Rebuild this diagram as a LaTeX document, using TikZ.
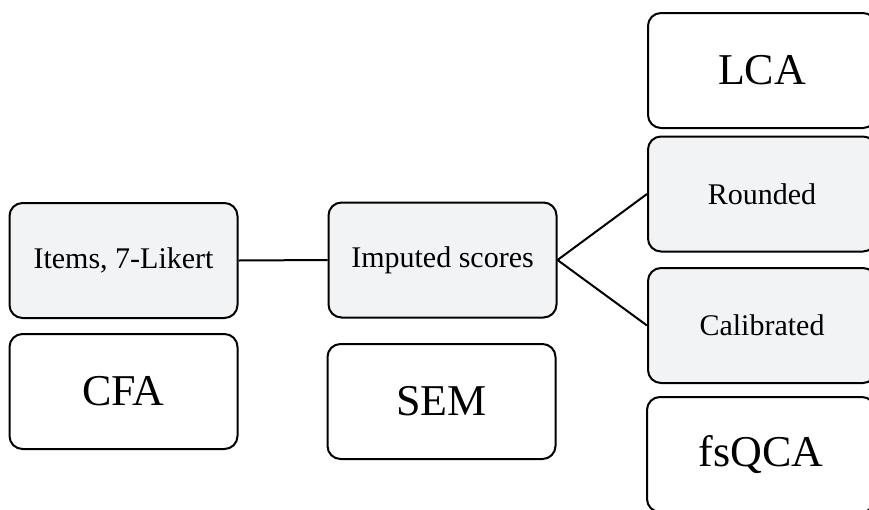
\documentclass[tikz,border=0pt]{standalone}
\usepackage{fontspec}
\setmainfont{Liberation Serif}
\begin{document}
\begin{tikzpicture}[x=1pt,y=-1pt,
  box/.style={draw=black, line width=2pt, rounded corners=13pt,
    minimum width=228pt, minimum height=115pt, inner sep=0pt, align=center},
  stage/.style={box, fill={rgb,255:red,242;green,243;blue,245},
    font=\fontsize{30}{36}\selectfont},
  method/.style={box, fill=white, font=\fontsize{44}{52}\selectfont},
  link/.style={draw=black, line width=2pt}]
  \useasboundingbox (0,0) rectangle (869,509);
  \clip (0,0) rectangle (869,509);

  % data stages
  \node[stage] (items) at (123.5,260.5) {Items, 7-Likert};
  \node[stage] (imputed) at (442.5,260) {Imputed scores};
  \node[stage] (rounded) at (762,194) {Rounded};
  \node[stage] (calibrated) at (762,325.5) {Calibrated};

  % analysis methods
  \node[method] (cfa) at (123.5,391.5) {CFA};
  \node[method] (sem) at (441.5,401.5) {SEM};
  \node[method] (lca) at (762,70.5) {LCA};
  \node[method] (fsqca) at (761,454.5) {fsQCA};

  % connectors
  \draw[link] (items.east) -- (imputed.west);
  \draw[link] (imputed.east) -- (rounded.west);
  \draw[link] (imputed.east) -- (calibrated.west);
\end{tikzpicture}
\end{document}
